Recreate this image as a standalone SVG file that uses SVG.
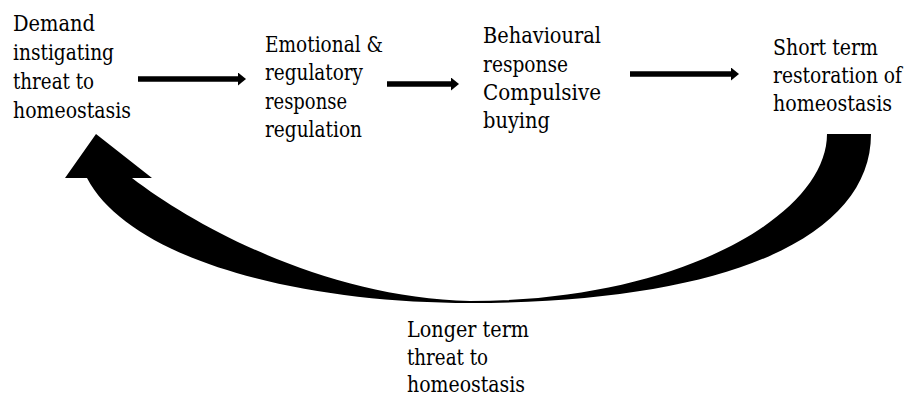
<svg xmlns="http://www.w3.org/2000/svg" width="909" height="397" viewBox="0 0 909 397">
  <style>
    .t { font-family: 'DejaVu Serif', 'Liberation Serif', serif; font-size: 21.5px; fill: #000; }
    .conn { stroke: #000; stroke-width: 5.5; fill: none; }
  </style>
  <defs>
    <marker id="head" markerUnits="userSpaceOnUse" viewBox="0 0 8 13" refX="0" refY="6.5" markerWidth="8" markerHeight="13" orient="auto">
      <path d="M0,0 L8,6.5 L0,13 Z" fill="#000"/>
    </marker>
  </defs>
  <rect width="909" height="397" fill="#fff"/>

  <g id="node-demand" class="t">
    <text x="13" y="31" textLength="82" lengthAdjust="spacingAndGlyphs">Demand</text>
    <text x="13" y="60" textLength="101" lengthAdjust="spacingAndGlyphs">instigating</text>
    <text x="13" y="89" textLength="81" lengthAdjust="spacingAndGlyphs">threat to</text>
    <text x="13" y="118" textLength="118" lengthAdjust="spacingAndGlyphs">homeostasis</text>
  </g>
  <g id="node-emotional" class="t">
    <text x="265" y="52" textLength="118" lengthAdjust="spacingAndGlyphs">Emotional &amp;</text>
    <text x="265" y="80" textLength="98" lengthAdjust="spacingAndGlyphs">regulatory</text>
    <text x="265" y="109" textLength="82" lengthAdjust="spacingAndGlyphs">response</text>
    <text x="265" y="137" textLength="97" lengthAdjust="spacingAndGlyphs">regulation</text>
  </g>
  <g id="node-behavioural" class="t">
    <text x="483" y="43" textLength="118" lengthAdjust="spacingAndGlyphs">Behavioural</text>
    <text x="483" y="72" textLength="85" lengthAdjust="spacingAndGlyphs">response</text>
    <text x="483" y="100" textLength="118" lengthAdjust="spacingAndGlyphs">Compulsive</text>
    <text x="483" y="128" textLength="67" lengthAdjust="spacingAndGlyphs">buying</text>
  </g>
  <g id="node-short" class="t">
    <text x="773" y="55" textLength="105" lengthAdjust="spacingAndGlyphs">Short term</text>
    <text x="773" y="83" textLength="129" lengthAdjust="spacingAndGlyphs">restoration of</text>
    <text x="773" y="111" textLength="119" lengthAdjust="spacingAndGlyphs">homeostasis</text>
  </g>
  <g id="node-longer" class="t">
    <text x="407" y="337" textLength="122" lengthAdjust="spacingAndGlyphs">Longer term</text>
    <text x="407" y="365" textLength="81" lengthAdjust="spacingAndGlyphs">threat to</text>
    <text x="407" y="392" textLength="118" lengthAdjust="spacingAndGlyphs">homeostasis</text>
  </g>

  <g id="connectors">
    <line class="conn" x1="138" y1="79" x2="238" y2="79" marker-end="url(#head)"/>
    <line class="conn" x1="387" y1="84" x2="451" y2="84" marker-end="url(#head)"/>
    <line class="conn" x1="630" y1="74" x2="731" y2="74" marker-end="url(#head)"/>
    <path id="feedback" fill="#000" d="M 871,134 C 871,240 720,303 470,303 C 300,303 130,260 87,178 L 65,178 L 96,134 L 152,178 L 132,178 C 200,230 330,298 470,301 C 680,301 827,215 827,134 Z"/>
  </g>
</svg>
